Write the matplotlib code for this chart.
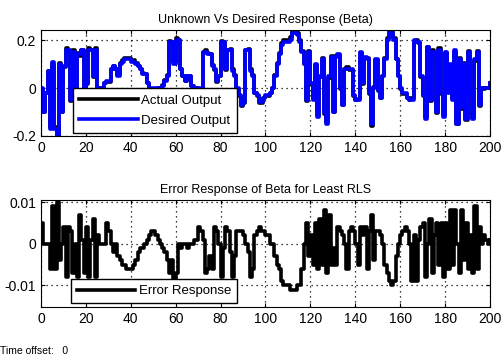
import numpy as np
import matplotlib
matplotlib.use("Agg")
import matplotlib.pyplot as plt

plt.rcParams['font.family'] = ['Liberation Sans', 'DejaVu Sans']

# sample index 0..200
n = np.arange(201)

# desired output (Beta), units of 0.01
desired = np.array([
    0, -10, -2, 7, -17, 11, -17, -20, 10, -10,
    9, 16, 16, -5, 15, -8, 14, 14, 16, -3,
    2, 16, 16, 5, 16, 0, 0, 0, 2, 3,
    3, 8, 9, 8, 5, 10, 11, 12, 12, 12,
    11, 11, 10, 9, 8, 6, 6, 2, 0, 0,
    -1, 0, 0, 0, 1, 3, 5, 19, 19, 10,
    20, 20, 8, 5, 3, 5, 5, 1, 0, 0,
    0, 0, 15, 15, 14, 14, 9, 8, 3, 5,
    19, 19, 8, 16, 16, 7, 5, 0, -3, -7,
    -6, 16, 16, 7, 5, -2, -3, -6, -6, -4,
    -3, -3, -2, 0, 5, 10, 14, 18, 19, 19,
    19, 20, 23, 23, 22, 19, 15, 10, -5, 15,
    2, -5, 10, -12, 5, 12, -10, -15, 5, 13,
    -10, 13, 14, 0, -7, 8, 8, 8, 8, -3,
    -5, -5, 15, 2, 13, 12, -2, -15, 0, 12,
    -1, -4, 5, 12, 20, 23, 23, 20, 12, 5,
    0, -2, -2, -4, -5, -5, 20, 19, 19, 5,
    -3, -13, 17, -5, 15, 14, -10, 16, -2, -12,
    15, -2, 10, -5, 16, -15, 12, -8, 10, -13,
    15, -2, -13, 12, 15, -7, 0, 0, 0, 0,
    2]) * 0.01

# error response, units of 0.001
error = np.array([
    5, 0, 0, 0, -6, 9, -6, 10, -4, 0,
    4, -8, 4, 3, -7, 0, -8, 7, 1, -7,
    4, -8, 1, 6, -8, 2, 0, 0, 0, 5,
    3, 0, -2, 0, -3, -4, -5, -5, -6, -6,
    -6, -5, -4, -2, -1, -1, 0, 1, 2, 3,
    3, 2, 1, 0, -1, -2, -4, -7, -4, -9,
    -7, 0, -1, 0, 0, -1, 0, 0, 1, 1,
    4, 3, 1, -7, -6, -3, -6, 4, 3, 0,
    -8, -1, 4, 3, -2, -8, -3, 3, 3, 3,
    2, 0, -2, -8, -6, 2, 3, 4, 3, 3,
    2, 2, 0, 0, -3, -5, -6, -9, -10, -10,
    -10, -11, -11, -11, -10, -10, -6, 0, 5, -3,
    2, -5, 5, -6, 6, -5, 8, -7, 7, -5,
    -1, -5, 4, 3, 2, 0, -6, 3, 4, 3,
    0, -5, 4, 2, 4, -6, 3, 7, -4, 3,
    3, 2, 0, -5, -7, -9, -10, -9, -3, 0,
    2, 3, 4, 3, 0, -9, 2, -9, 1, 4,
    5, -8, 0, 6, -7, 2, 5, -5, 5, -8,
    5, -6, 8, -5, 8, 0, -7, 8, -4, 5,
    -6, 2, -7, 9, -6, 4, 0, 2, 1, 0,
    1]) * 0.001

actual = desired - error

fig = plt.figure(figsize=(5.03, 3.64), dpi=100)
fig.patch.set_facecolor("white")

ax1 = fig.add_axes([0.0815, 0.6264, 0.8926, 0.2912])
ax1.plot(n, actual, color="black", lw=2.6, drawstyle="steps-post", label="Actual Output")
ax1.plot(n, desired, color="blue", lw=2.6, drawstyle="steps-post", label="Desired Output")
ax1.set_xlim(0, 200)
ax1.set_ylim(-0.2, 0.242)
ax1.set_yticks([-0.2, 0, 0.2])
ax1.set_yticklabels(["-0.2", "0", "0.2"])
ax1.set_title("Unknown Vs Desired Response (Beta)", fontsize=9, pad=5)
ax1.legend(loc="lower left", bbox_to_anchor=(0.071, 0.025), fontsize=9.5,
           fancybox=False, edgecolor="black", framealpha=1, borderaxespad=0,
           handlelength=4.4, borderpad=0.5, labelspacing=0.6,
           handletextpad=0.3)

ax2 = fig.add_axes([0.0815, 0.1566, 0.8926, 0.294])
ax2.plot(n, error, color="black", lw=2.6, drawstyle="steps-post", label="Error Response")
ax2.set_xlim(0, 200)
ax2.set_ylim(-0.0152, 0.0105)
ax2.set_yticks([-0.01, 0, 0.01])
ax2.set_yticklabels(["-0.01", "0", "0.01"])
ax2.set_title("Error Response of Beta for Least RLS", fontsize=9, pad=5)
ax2.legend(loc="lower left", bbox_to_anchor=(0.067, 0.035), fontsize=9.5,
           fancybox=False, edgecolor="black", framealpha=1, borderaxespad=0,
           handlelength=4.4, borderpad=0.45, handletextpad=0.3)

for ax in (ax1, ax2):
    ax.set_xticks(np.arange(0, 201, 20))
    ax.tick_params(direction="in", top=True, right=True, labelsize=10, length=3)
    ax.grid(True, color="black", linestyle=(0, (1, 3)), linewidth=0.9)
    for s in ax.spines.values():
        s.set_linewidth(0.8)

fig.text(0.0, 0.035, "Time offset:   0", fontsize=7.5, ha="left", va="center")

fig.savefig("out.png", dpi=100)
